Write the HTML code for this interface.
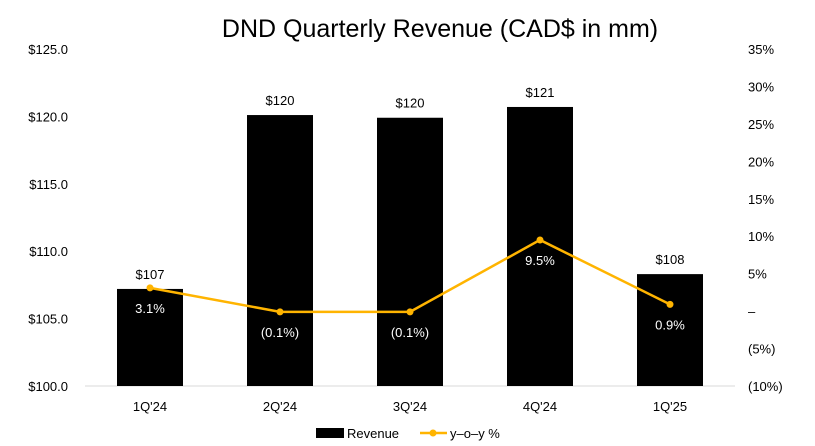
<!DOCTYPE html>
<html><head><meta charset="utf-8"><style>
body{margin:0;background:#fff;}
svg{display:block;font-family:"Liberation Sans",sans-serif;}
</style></head><body>
<svg id="c" width="815" height="446">
<text x="440" y="37" text-anchor="middle" font-size="25" fill="#000">DND Quarterly Revenue (CAD$ in mm)</text>
</svg>
<script>
const categories=["1Q'24","2Q'24","3Q'24","4Q'24","1Q'25"];
const revenue=[107.2,120.1,119.9,120.7,108.3];
const revenueLabels=["$107","$120","$120","$121","$108"];
const yoy=[3.1,-0.1,-0.1,9.5,0.9];
const yoyLabels=["3.1%","(0.1%)","(0.1%)","9.5%","0.9%"];
const leftTicks=[100,105,110,115,120,125];
const leftTickLabels=["$100.0","$105.0","$110.0","$115.0","$120.0","$125.0"];
const rightTicks=[-10,-5,0,5,10,15,20,25,30,35];
const rightTickLabels=["(10%)","(5%)","–","5%","10%","15%","20%","25%","30%","35%"];

const svg=document.getElementById('c');
const NS='http://www.w3.org/2000/svg';
const plotTop=49,plotBot=386;
const yL=v=>plotBot-(v-100)/25*(plotBot-plotTop);
const yR=v=>plotBot-(v+10)/45*(plotBot-plotTop);
const xC=i=>150+i*130;
const bw=66;
function mk(t,a,txt){const e=document.createElementNS(NS,t);for(const k in a)e.setAttribute(k,a[k]);if(txt!==undefined)e.textContent=txt;svg.appendChild(e);return e;}

let ax=mk('line',{x1:85,x2:735,y1:plotBot,y2:plotBot,stroke:'#d9d9d9','stroke-width':1});



leftTicks.forEach((v,i)=>{const t=mk('text',{x:68,y:yL(v)+5,'text-anchor':'end','font-size':13,fill:'#000'},leftTickLabels[i]);

});
rightTicks.forEach((v,i)=>{const t=mk('text',{x:748,y:yR(v)+5,'text-anchor':'start','font-size':13,fill:'#000'},rightTickLabels[i]);

});

categories.forEach((c,i)=>{
 const x=xC(i);
 const b=mk('rect',{x:x-bw/2,y:yL(revenue[i]),width:bw,height:plotBot-yL(revenue[i]),fill:'#000'});
 
 
 const l=mk('text',{x:x,y:yL(revenue[i])-10,'text-anchor':'middle','font-size':13,fill:'#000'},revenueLabels[i]);
 
 
 const ct=mk('text',{x:x,y:411,'text-anchor':'middle','font-size':13,fill:'#000'},c);
 
 
});

const pts=yoy.map((v,i)=>xC(i)+','+yR(v)).join(' ');
const pl=mk('polyline',{points:pts,fill:'none',stroke:'#FFB400','stroke-width':2.5});


yoy.forEach((v,i)=>{
 const d=mk('circle',{cx:xC(i),cy:yR(v),r:3.5,fill:'#FFB400'});
 
 
 const t=mk('text',{x:xC(i),y:yR(v)+25,'text-anchor':'middle','font-size':13,fill:'#fff'},yoyLabels[i]);
 
 
});

let lr=mk('rect',{x:316,y:428,width:28,height:10,fill:'#000'});


let lt=mk('text',{x:347,y:438,'font-size':13,fill:'#000'},'Revenue');


let ll=mk('line',{x1:420,x2:447,y1:433,y2:433,stroke:'#FFB400','stroke-width':2.5});


let lc=mk('circle',{cx:433,cy:433,r:3.5,fill:'#FFB400'});


let lt2=mk('text',{x:450,y:438,'font-size':13,fill:'#000'},'y–o–y %');


</script>
</body></html>
